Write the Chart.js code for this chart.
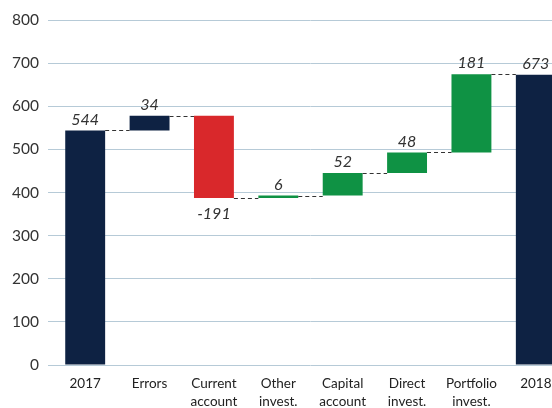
<!DOCTYPE html>
<html>
<head>
<meta charset="utf-8">
<script src="https://cdn.jsdelivr.net/npm/chart.js@4/dist/chart.umd.min.js"></script>
<style>
  html, body { margin: 0; padding: 0; background: #fff; overflow: hidden; }
  #wrap { width: 552px; height: 408px; overflow: hidden; }
</style>
</head>
<body>
<div id="wrap"><canvas id="c" width="568" height="408"></canvas></div>
<script>
// Balance of payments waterfall, 2017 to 2018
const categories = [['2017'], ['Errors'], ['Current', 'account'], ['Other', 'invest.'],
                    ['Capital', 'account'], ['Direct', 'invest.'], ['Portfolio', 'invest.'], ['2018']];
const values = [544, 34, -191, 6, 52, 48, 181, 673];
const kinds = ['total', 'change', 'change', 'change', 'change', 'change', 'change', 'total'];
const yTicks = [0, 100, 200, 300, 400, 500, 600, 700, 800];

const NAVY = '#0e2243', RED = '#d9282b', GREEN = '#0f9244';

// floating [start, end] ranges from running totals
let running = 0;
const ranges = values.map((v, i) => {
  if (kinds[i] === 'total') { running = v; return [0, v]; }
  const start = running; running += v; return [start, running];
});
const colors = values.map((v, i) => i === 1 || kinds[i] === 'total' ? NAVY : (v < 0 ? RED : GREEN));

const FONT = 'Lato, "Open Sans", sans-serif';

const waterfallExtras = {
  id: 'waterfallExtras',
  afterDatasetsDraw(chart) {
    const ctx = chart.ctx;
    const meta = chart.getDatasetMeta(0);
    const y = chart.scales.y;
    ctx.save();
    // dashed connectors between consecutive bars
    ctx.strokeStyle = '#333';
    ctx.lineWidth = 1;
    ctx.setLineDash([4, 3]);
    for (let i = 0; i < meta.data.length - 1; i++) {
      const a = meta.data[i], b = meta.data[i + 1];
      const level = ranges[i][1];
      const yy = Math.round(y.getPixelForValue(level)) + 0.5;
      ctx.beginPath();
      ctx.moveTo(a.x + a.width / 2, yy);
      ctx.lineTo(b.x - b.width / 2, yy);
      ctx.stroke();
    }
    ctx.setLineDash([]);
    // value labels
    ctx.fillStyle = '#333';
    ctx.font = 'italic 16px ' + FONT;
    ctx.textAlign = 'center';
    meta.data.forEach((bar, i) => {
      const v = values[i];
      const top = y.getPixelForValue(Math.max(ranges[i][0], ranges[i][1]));
      const bottom = y.getPixelForValue(Math.min(ranges[i][0], ranges[i][1]));
      if (v < 0) {
        ctx.textBaseline = 'top';
        ctx.fillText(String(v), bar.x, bottom + 8);
      } else {
        ctx.textBaseline = 'bottom';
        ctx.fillText(String(v), bar.x, top - 3);
      }
    });
    ctx.restore();
  }
};

new Chart(document.getElementById('c'), {
  type: 'bar',
  data: {
    labels: categories,
    datasets: [{
      data: ranges,
      backgroundColor: colors,
      borderWidth: 0,
      categoryPercentage: 1,
      barPercentage: 0.62
    }]
  },
  options: {
    responsive: false,
    animation: false,
    devicePixelRatio: 1,
    layout: { padding: { top: 20, right: 0, bottom: 0, left: 0 } },
    plugins: { legend: { display: false }, tooltip: { enabled: false } },
    scales: {
      x: {
        grid: { display: false, drawTicks: false },
        border: { display: false },
        ticks: {
          color: '#222',
          font: { family: FONT, size: 13.5, lineHeight: 1.3 },
          padding: 10,
          maxRotation: 0,
          autoSkip: false
        },
        afterFit(scale) { scale.height = 43; }
      },
      y: {
        min: 0,
        max: 800,
        afterBuildTicks(scale) { scale.ticks = yTicks.map(v => ({ value: v })); },
        grid: { color: '#b6cad7', lineWidth: 1, tickLength: 5, drawTicks: true },
        border: { display: false },
        ticks: {
          color: '#333',
          font: { family: FONT, size: 15.5 },
          padding: 9
        },
        afterFit(scale) { scale.width = 53; }
      }
    }
  },
  plugins: [waterfallExtras]
});
</script>
</body>
</html>
